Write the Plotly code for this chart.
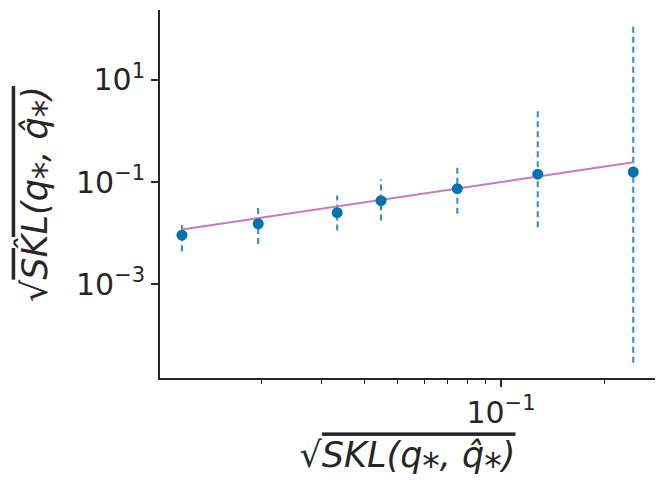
import plotly.graph_objects as go

# data
x_vals = [0.01175, 0.0196, 0.0333, 0.0447, 0.0746, 0.128, 0.243]
y_vals = [0.00906, 0.0152, 0.0250, 0.0431, 0.0741, 0.142, 0.157]
y_hi = [0.0168, 0.0348, 0.0547, 0.113, 0.197, 2.70, 116.0]
y_lo = [0.00439, 0.00612, 0.0112, 0.0176, 0.0239, 0.0130, 2.86e-5]
line_x = [x_vals[0], x_vals[-1]]
line_y = [x_vals[0], x_vals[-1]]  # identity line y = x

y_tickvals = [10, 0.1, 0.001]
y_ticktext = ["10<sup>1</sup>", "10<sup>\u22121</sup>", "10<sup>\u22123</sup>"]
x_tickvals = [0.1]
x_ticktext = ["10<sup>\u22121</sup>"]
x_minor = [0.02, 0.03, 0.04, 0.05, 0.06, 0.07, 0.08, 0.09, 0.2]

BLUE = "#0173b2"
ERR = "#2a8cc6"
PINK = "#cc78bc"
DARK = "#262626"
FONT = "DejaVu Sans"

fig = go.Figure()

# dashed error bars
ex, ey = [], []
for xv, lo, hi in zip(x_vals, y_lo, y_hi):
    ex += [xv, xv, None]
    ey += [lo, hi, None]
fig.add_trace(go.Scatter(x=ex, y=ey, mode="lines",
                         line=dict(color=ERR, width=2, dash="6px,4px"),
                         showlegend=False, hoverinfo="skip"))

fig.add_trace(go.Scatter(x=line_x, y=line_y, mode="lines",
                         line=dict(color=PINK, width=2), showlegend=False))

fig.add_trace(go.Scatter(x=x_vals, y=y_vals, mode="markers",
                         marker=dict(color=BLUE, size=11), showlegend=False))

OL = "text-decoration:overline"
xtitle = ("\u221a<span style='%s'><i>SKL(q\u204e, q\u0302\u204e)</i></span>" % OL)
ytitle = ("\u221a<span style='%s'><i>SK\u0302L(q\u204e, q\u0302\u204e)</i></span>" % OL)

# the page body has an 8px default margin, so the figure is offset by 8px
fig.update_layout(
    width=665, height=496,
    margin=dict(l=152, r=18, t=2, b=126),
    paper_bgcolor="white", plot_bgcolor="white",
    font=dict(family=FONT, color=DARK, size=30),
    xaxis=dict(
        type="log", range=[-1.994, -0.551], automargin=False,
        showgrid=False, zeroline=False,
        showline=True, linecolor=DARK, linewidth=1.8,
        ticks="outside", ticklen=7, tickwidth=1.5, tickcolor=DARK,
        tickvals=x_tickvals, ticktext=x_ticktext,
        tickfont=dict(size=30, family=FONT, color=DARK),
        minor=dict(tickvals=x_minor, ticks="outside", ticklen=4, tickwidth=1.2, tickcolor=DARK),
        title=dict(text=xtitle, font=dict(size=35, family=FONT, color=DARK), standoff=14),
    ),
    yaxis=dict(
        type="log", range=[-4.84, 2.37], automargin=False,
        showgrid=False, zeroline=False,
        showline=True, linecolor=DARK, linewidth=1.8,
        ticks="outside", ticklen=7, tickwidth=1.5, tickcolor=DARK,
        tickvals=y_tickvals, ticktext=y_ticktext,
        tickfont=dict(size=30, family=FONT, color=DARK),
        title=dict(text=ytitle, font=dict(size=35, family=FONT, color=DARK), standoff=18),
    ),
)

fig.write_html("out.html")
